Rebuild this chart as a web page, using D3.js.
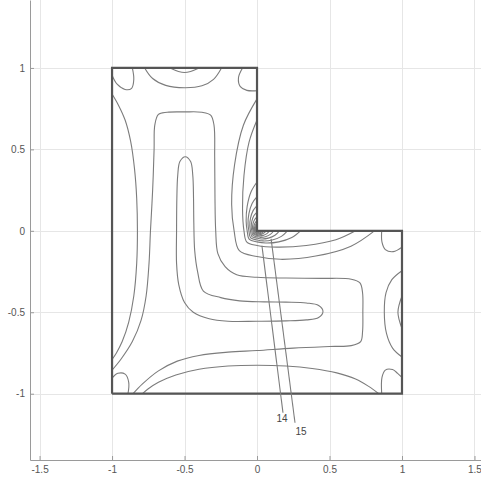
<!DOCTYPE html>
<html>
<head>
<meta charset="utf-8">
<script src="https://cdn.jsdelivr.net/npm/d3@7/dist/d3.min.js"></script>
<style>
  body { margin: 0; background: #ffffff; }
  svg { display: block; }
</style>
</head>
<body>
<svg id="chart" width="481" height="482"></svg>
<script>
// Axis extents and ticks
const xExtent = [-1.566, 1.545];
const yExtent = [-1.407, 1.417];
const xTicks = [-1.5, -1, -0.5, 0, 0.5, 1, 1.5];
const yTicks = [-1, -0.5, 0, 0.5, 1];

// L-shaped domain outline
const domainOutline = [[-1, -1], [1, -1], [1, 0], [0, 0], [0, 1], [-1, 1], [-1, -1]];

// Innermost closed contour along the ridge of the L
const ridgeLoop = [
  [-0.495, 0.455], [-0.458, 0.425], [-0.443, 0.34], [-0.438, 0.2], [-0.436, 0.05],
  [-0.43, -0.12], [-0.41, -0.25], [-0.37, -0.37], [-0.25, -0.41], [-0.12, -0.43],
  [0.05, -0.436], [0.2, -0.438], [0.34, -0.443], [0.425, -0.458], [0.455, -0.495],
  [0.425, -0.532], [0.34, -0.547], [0.2, -0.553], [0.0, -0.555], [-0.2, -0.555],
  [-0.33, -0.54], [-0.44, -0.5], [-0.5, -0.44], [-0.54, -0.33], [-0.555, -0.2],
  [-0.555, 0.0], [-0.553, 0.2], [-0.547, 0.34], [-0.532, 0.425]
];

// Second contour wrapping the ridge, ending near the corner (-1,-1)
const ridgeOuter = [
  [-1, -0.855], [-0.94, -0.79], [-0.86, -0.68], [-0.8, -0.55], [-0.765, -0.4],
  [-0.745, -0.2], [-0.735, 0.0], [-0.72, 0.25], [-0.71, 0.5], [-0.705, 0.65],
  [-0.68, 0.715], [-0.62, 0.728], [-0.5, 0.73], [-0.38, 0.728], [-0.32, 0.71],
  [-0.297, 0.65], [-0.292, 0.45], [-0.29, 0.2], [-0.285, 0.0], [-0.27, -0.14],
  [-0.22, -0.22], [-0.14, -0.27], [0.0, -0.285], [0.2, -0.29], [0.45, -0.292],
  [0.65, -0.297], [0.71, -0.32], [0.728, -0.38], [0.73, -0.5], [0.728, -0.62],
  [0.715, -0.68], [0.65, -0.705], [0.5, -0.71], [0.25, -0.72], [0.0, -0.735],
  [-0.2, -0.745], [-0.4, -0.765], [-0.55, -0.8], [-0.68, -0.86], [-0.79, -0.94],
  [-0.855, -1]
];

// Contours running along the long outer edges
const leftEdgeCurve = [
  [-1, 0.84], [-0.955, 0.77], [-0.91, 0.68], [-0.872, 0.55], [-0.845, 0.38],
  [-0.83, 0.2], [-0.825, 0.0], [-0.83, -0.2], [-0.85, -0.4], [-0.885, -0.56],
  [-0.93, -0.68], [-0.97, -0.75], [-1, -0.79]
];
const bottomEdgeCurve = [
  [0.84, -1], [0.77, -0.955], [0.68, -0.91], [0.55, -0.872], [0.38, -0.845],
  [0.2, -0.83], [0.0, -0.825], [-0.2, -0.83], [-0.4, -0.85], [-0.56, -0.885],
  [-0.68, -0.93], [-0.75, -0.97], [-0.79, -1]
];

// Arcs near the arm tips
const topArc = [[-0.775, 1], [-0.72, 0.935], [-0.63, 0.893], [-0.5, 0.878], [-0.38, 0.89], [-0.3, 0.93], [-0.245, 1]];
const rightArc = [[1, -0.775], [0.935, -0.72], [0.893, -0.63], [0.878, -0.5], [0.89, -0.38], [0.93, -0.3], [1, -0.245]];
const topArcInner = [[-0.6, 1], [-0.5, 0.972], [-0.4, 1]];
const rightArcInner = [[1, -0.6], [0.972, -0.5], [1, -0.4]];

// Small loops at the convex corners
const cornerTopLeft = [[-1, 0.955], [-0.965, 0.9], [-0.91, 0.868], [-0.865, 0.875], [-0.85, 0.93], [-0.86, 1]];
const cornerTopRight = [[-0.1, 1], [-0.128, 0.94], [-0.115, 0.885], [-0.07, 0.862], [0, 0.86]];
const cornerRightTop = [[0.86, 0], [0.862, -0.07], [0.885, -0.115], [0.94, -0.128], [1, -0.1]];
const cornerBottomRight = [[0.86, -1], [0.862, -0.9], [0.885, -0.855], [0.935, -0.852], [0.97, -0.875], [1, -0.9]];
const cornerBottomLeft = [[-1, -0.905], [-0.96, -0.875], [-0.91, -0.88], [-0.885, -0.93], [-0.89, -1]];

// Contours wrapping the re-entrant corner (0,0), outermost first
const reentrant3 = [[0, 0.81], [-0.094, 0.648], [-0.155, 0.405], [-0.175, 0.162], [-0.158, 0], [-0.122, -0.122], [0, -0.158], [0.162, -0.175], [0.405, -0.155], [0.648, -0.094], [0.81, 0]];
const reentrant4 = [[0, 0.68], [-0.055, 0.544], [-0.09, 0.34], [-0.1, 0.136], [-0.09, 0], [-0.07, -0.07], [0, -0.09], [0.136, -0.1], [0.34, -0.09], [0.544, -0.055], [0.68, 0]];
const reentrant5 = [[0, 0.30], [-0.041, 0.24], [-0.068, 0.15], [-0.075, 0.06], [-0.068, 0], [-0.053, -0.053], [0, -0.068], [0.06, -0.075], [0.15, -0.068], [0.24, -0.041], [0.30, 0]];
const reentrant6 = [[0, 0.21], [-0.034, 0.168], [-0.056, 0.105], [-0.062, 0.042], [-0.056, 0], [-0.044, -0.044], [0, -0.056], [0.042, -0.062], [0.105, -0.056], [0.168, -0.034], [0.21, 0]];
const reentrant7 = [[0, 0.155], [-0.027, 0.124], [-0.045, 0.078], [-0.05, 0.031], [-0.045, 0], [-0.035, -0.035], [0, -0.045], [0.031, -0.05], [0.078, -0.045], [0.124, -0.027], [0.155, 0]];
const reentrant8 = [[0, 0.115], [-0.022, 0.092], [-0.036, 0.058], [-0.04, 0.023], [-0.036, 0], [-0.028, -0.028], [0, -0.036], [0.023, -0.04], [0.058, -0.036], [0.092, -0.022], [0.115, 0]];
const reentrant9 = [[0, 0.085], [-0.017, 0.068], [-0.028, 0.043], [-0.031, 0.017], [-0.028, 0], [-0.022, -0.022], [0, -0.028], [0.017, -0.031], [0.043, -0.028], [0.068, -0.017], [0.085, 0]];
const reentrant10 = [[0, 0.064], [-0.017, 0.042], [-0.024, 0.014], [-0.017, -0.017], [0.014, -0.024], [0.042, -0.017], [0.064, 0]];
const reentrant11 = [[0, 0.048], [-0.013, 0.032], [-0.018, 0.01], [-0.013, -0.013], [0.01, -0.018], [0.032, -0.013], [0.048, 0]];
const reentrant12 = [[0, 0.036], [-0.01, 0.024], [-0.014, 0.008], [-0.01, -0.01], [0.008, -0.014], [0.024, -0.01], [0.036, 0]];
const reentrant13 = [[0, 0.027], [-0.0075, 0.018], [-0.0105, 0.006], [-0.0075, -0.0075], [0.006, -0.0105], [0.018, -0.0075], [0.027, 0]];
const reentrant14 = [[0, 0.02], [-0.005, 0.013], [-0.008, 0.004], [-0.006, -0.006], [0.004, -0.008], [0.013, -0.005], [0.02, 0]];
const reentrant15 = [[0, 0.015], [-0.004, 0.01], [-0.006, 0.003], [-0.0045, -0.0045], [0.003, -0.006], [0.01, -0.004], [0.015, 0]];

// Contour labels with their leader lines
const labelTexts = ["14", "15"];
const labelPositions = [[0.172, -1.153], [0.303, -1.233]];
const labelLeaders = [
  [[0.034, -0.092], [0.179, -1.117]],
  [[0.097, -0.049], [0.262, -1.178]]
];

const openContours = [
  ridgeOuter, leftEdgeCurve, bottomEdgeCurve, topArc, rightArc, topArcInner, rightArcInner,
  cornerTopLeft, cornerTopRight, cornerRightTop, cornerBottomRight, cornerBottomLeft,
  reentrant3, reentrant4, reentrant5, reentrant6, reentrant7, reentrant8, reentrant9,
  reentrant10, reentrant11, reentrant12, reentrant13, reentrant14, reentrant15
];
const closedContours = [ridgeLoop];

const svg = d3.select("#chart");
const x = d3.scaleLinear().domain(xExtent).range([30, 481]);
const y = d3.scaleLinear().domain(yExtent).range([460, 0]);

// grid
const grid = svg.append("g").attr("stroke", "#e6e6e6").attr("stroke-width", 1);
grid.selectAll("line.vx").data(xTicks).join("line")
  .attr("x1", d => Math.round(x(d)) + 0.5).attr("x2", d => Math.round(x(d)) + 0.5)
  .attr("y1", y(yExtent[0])).attr("y2", y(yExtent[1]));
grid.selectAll("line.hy").data(yTicks).join("line")
  .attr("y1", d => Math.round(y(d)) + 0.5).attr("y2", d => Math.round(y(d)) + 0.5)
  .attr("x1", x(xExtent[0])).attr("x2", x(xExtent[1]));

// axes
const fmt = d => String(d);
const xAxis = svg.append("g")
  .attr("transform", `translate(0,${y(yExtent[0])})`)
  .call(d3.axisBottom(x).tickValues(xTicks).tickSizeInner(-4).tickSizeOuter(0).tickPadding(6).tickFormat(fmt));
const yAxis = svg.append("g")
  .attr("transform", `translate(${x(xExtent[0])},0)`)
  .call(d3.axisLeft(y).tickValues(yTicks).tickSizeInner(-4).tickSizeOuter(0).tickPadding(5).tickFormat(fmt));
[xAxis, yAxis].forEach(a => {
  a.select(".domain").attr("stroke", "#9a9a9a");
  a.selectAll(".tick line").attr("stroke", "#9a9a9a");
  a.selectAll(".tick text").attr("fill", "#555").attr("font-size", 10)
    .attr("font-family", "'Liberation Sans', Arial, sans-serif");
});

// contours
const lineOpen = d3.line().x(d => x(d[0])).y(d => y(d[1])).curve(d3.curveCatmullRom.alpha(0.5));
const lineClosed = d3.line().x(d => x(d[0])).y(d => y(d[1])).curve(d3.curveCatmullRomClosed.alpha(0.5));
const cg = svg.append("g").attr("fill", "none").attr("stroke", "#7c7c7c").attr("stroke-width", 1.1);
cg.selectAll("path.open").data(openContours).join("path").attr("class", "open").attr("d", lineOpen);
cg.selectAll("path.closed").data(closedContours).join("path").attr("class", "closed").attr("d", lineClosed);

// domain boundary
svg.append("path")
  .attr("d", d3.line().x(d => x(d[0])).y(d => y(d[1]))(domainOutline))
  .attr("fill", "none").attr("stroke", "#555").attr("stroke-width", 2.2);

// labels and leaders
const straight = d3.line().x(d => x(d[0])).y(d => y(d[1]));
svg.append("g").attr("fill", "none").attr("stroke", "#7c7c7c").attr("stroke-width", 1.1)
  .selectAll("path").data(labelLeaders).join("path").attr("d", straight);
svg.append("g").selectAll("text").data(labelTexts).join("text")
  .attr("x", (d, i) => x(labelPositions[i][0]))
  .attr("y", (d, i) => y(labelPositions[i][1]))
  .attr("text-anchor", "middle").attr("dominant-baseline", "central")
  .attr("font-size", 10).attr("fill", "#444")
  .attr("font-family", "'Liberation Sans', Arial, sans-serif")
  .text(d => d);
</script>
</body>
</html>
